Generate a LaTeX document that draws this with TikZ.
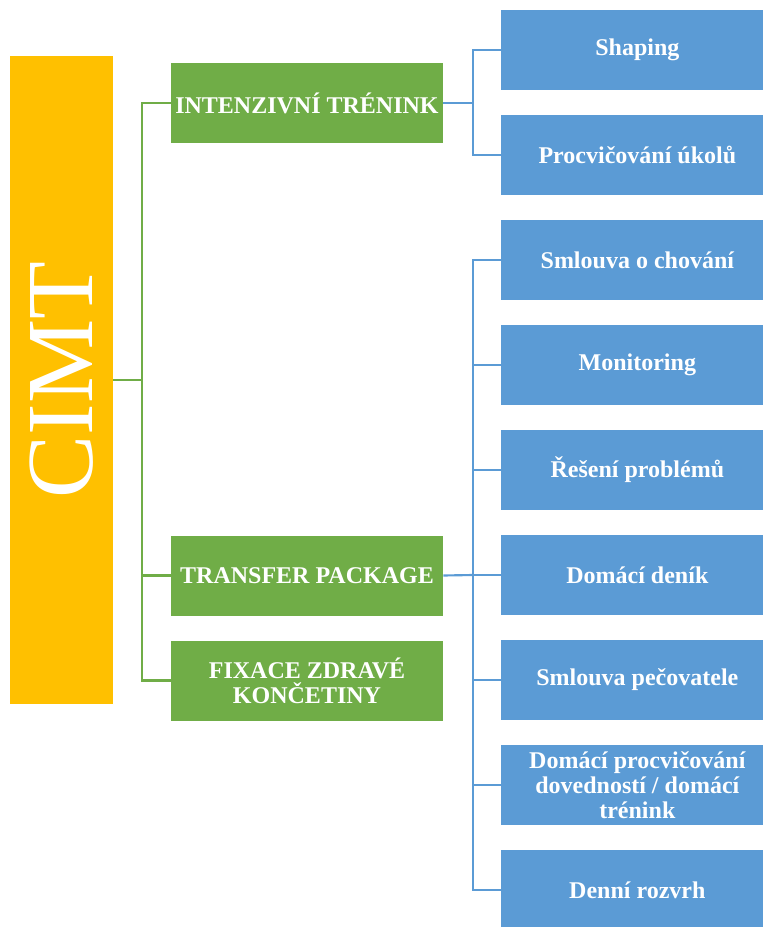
\documentclass[tikz,border=0pt]{standalone}
\usepackage{fontspec}
\setmainfont{Liberation Serif}
\definecolor{cimtorange}{HTML}{FFC000}
\definecolor{partgreen}{HTML}{70AD47}
\definecolor{itemblue}{HTML}{5B9BD5}
\begin{document}
\begin{tikzpicture}[x=0.75pt,y=-0.75pt,
    root/.style={fill=cimtorange,text=white,inner sep=0pt,
      minimum width=77.25pt,minimum height=486pt,
      font=\fontsize{71}{71}\selectfont},
    part/.style={fill=partgreen,text=white,inner sep=0pt,align=center,
      minimum width=204pt,minimum height=60pt,
      font=\bfseries\fontsize{18}{19}\selectfont},
    item/.style={fill=itemblue,text=white,inner sep=0pt,align=center,
      minimum width=196.5pt,minimum height=60pt,
      font=\bfseries\fontsize{18}{19}\selectfont},
    greenlink/.style={draw=partgreen,line width=1.6pt},
    bluelink/.style={draw=itemblue,line width=1.6pt}]
      \useasboundingbox (0,0) rectangle (764,927);
      \path
        (61.5,380) node[root] (cimt){\rotatebox{90}{CIMT}}
        (307,103) node[part] (int){INTENZIVNÍ TRÉNINK}
        (307,575.5) node[part] (trans){TRANSFER PACKAGE}
        (307,680.5) node[part] (fix){FIXACE ZDRAVÉ\\KONČETINY}
        (632,50) node[item] (shap){\hspace*{8pt}Shaping}
        (632,155) node[item] (proc){\hspace*{8pt}Procvičování úkolů}
        (632,260) node[item] (smlo){\hspace*{8pt}Smlouva o chování}
        (632,365) node[item] (moni){\hspace*{8pt}Monitoring}
        (632,470) node[item] (rese){\hspace*{8pt}Řešení problémů}
        (632,575) node[item] (deni){\hspace*{8pt}Domácí deník}
        (632,680) node[item] (pecu){\hspace*{8pt}Smlouva pečovatele}
        (632,785) node[item] (domp){\hspace*{8pt}Domácí procvičování\\\hspace*{8pt}dovedností / domácí\\\hspace*{8pt}trénink}
        (632,890) node[item] (rozv){\hspace*{8pt}Denní rozvrh};
      \coordinate (gsplit) at (142,380);
      \coordinate (bsplit1) at (473,103);
      \coordinate (bsplit2) at (473,575);
      \begin{scope}[greenlink]
        \draw (cimt.east) -- (gsplit);
        \draw (gsplit) |- (int.west);
        \draw (gsplit) |- (trans.west);
        \draw (gsplit) |- (fix.west);
      \end{scope}
      \begin{scope}[bluelink]
        \draw (int.east) -- (bsplit1);
        \draw (bsplit1) |- (shap.west);
        \draw (bsplit1) |- (proc.west);
        \draw (trans.east) -- (bsplit2);
        \draw (bsplit2) |- (smlo.west);
        \draw (bsplit2) |- (moni.west);
        \draw (bsplit2) |- (rese.west);
        \draw (bsplit2) |- (deni.west);
        \draw (bsplit2) |- (pecu.west);
        \draw (bsplit2) |- (domp.west);
        \draw (bsplit2) |- (rozv.west);
      \end{scope}
    \end{tikzpicture}
\end{document}
